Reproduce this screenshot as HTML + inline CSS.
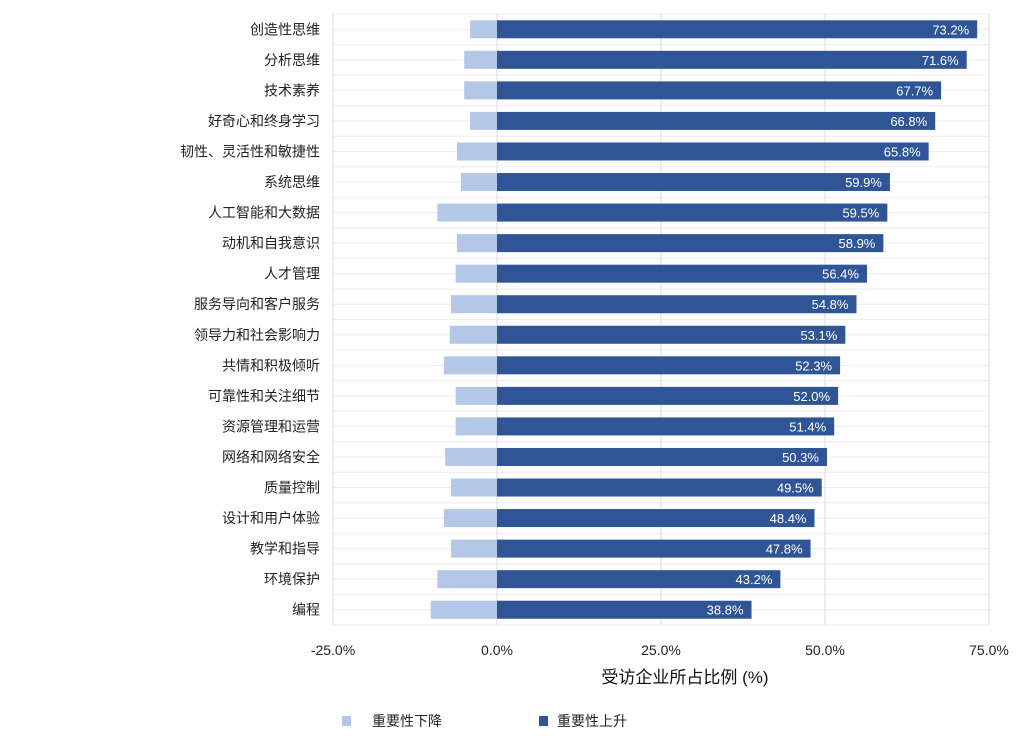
<!DOCTYPE html>
<html><head><meta charset="utf-8"><style>
body{margin:0;background:#fff;}
svg{display:block;font-family:"Liberation Sans","Noto Sans CJK SC",sans-serif;}
</style></head><body>
<svg id="chart" width="1024" height="739" viewBox="0 0 1024 739"></svg>
<script>
const categories=["创造性思维","分析思维","技术素养","好奇心和终身学习","韧性、灵活性和敏捷性","系统思维","人工智能和大数据","动机和自我意识","人才管理","服务导向和客户服务","领导力和社会影响力","共情和积极倾听","可靠性和关注细节","资源管理和运营","网络和网络安全","质量控制","设计和用户体验","教学和指导","环境保护","编程"];
const increaseValues=[73.2,71.6,67.7,66.8,65.8,59.9,59.5,58.9,56.4,54.8,53.1,52.3,52.0,51.4,50.3,49.5,48.4,47.8,43.2,38.8];
const decreaseValues=[-4.1,-5.0,-5.0,-4.1,-6.1,-5.5,-9.1,-6.1,-6.3,-7.0,-7.2,-8.1,-6.3,-6.3,-7.9,-7.0,-8.1,-7.0,-9.1,-10.1];
const xTicks=[-25,0,25,50,75];
const xTickLabels=["-25.0%","0.0%","25.0%","50.0%","75.0%"];

const NS="http://www.w3.org/2000/svg";
const svg=document.getElementById('chart');
const L=333,R=989,T=14,B=625;
const xMin=-25,xMax=75;
const band=(B-T)/categories.length;
function x(v){return L+(v-xMin)/(xMax-xMin)*(R-L);}
function yc(i){return T+band*(i+0.5);}
function el(tag,attrs,parent){const e=document.createElementNS(NS,tag);for(const k in attrs)e.setAttribute(k,attrs[k]);(parent||svg).appendChild(e);return e;}

const grid=el('g',{});


for(let k=0;k<=categories.length*2;k++){
  const yy=T+k*band/2;
  const ln=el('line',{x1:L,x2:R,y1:yy,y2:yy,stroke:'#ececec','stroke-width':1},grid);
  
  
}
xTicks.forEach((t,i)=>{
  const ln=el('line',{x1:x(t),x2:x(t),y1:T,y2:B,stroke:'#dcdcdc','stroke-width':1},grid);
  
  
  const tx=el('text',{x:x(t),y:655,'text-anchor':'middle','font-size':14,fill:'#222'});
  tx.textContent=xTickLabels[i];
  
  
});

categories.forEach((c,i)=>{
  const lab=el('text',{x:320,y:yc(i)+5,'text-anchor':'end','font-size':14,fill:'#222'});
  lab.textContent=c;
  
  
  const d=decreaseValues[i];
  const rd=el('rect',{x:x(d),y:yc(i)-9,width:x(0)-x(d),height:18,fill:'#b4c7e7'});
  
  
  const v=increaseValues[i];
  const ri=el('rect',{x:x(0),y:yc(i)-9,width:x(v)-x(0),height:18,fill:'#2f5597'});
  
  
  const vt=el('text',{x:x(v)-8,y:yc(i)+5,'text-anchor':'end','font-size':13,fill:'#fff'});
  vt.textContent=v.toFixed(1)+'%';
  
  
});

const title=el('text',{x:685,y:683,'text-anchor':'middle','font-size':17,fill:'#111'});
title.textContent='受访企业所占比例 (%)';



const lg=el('g',{});


const s1=el('rect',{x:342,y:716,width:9,height:10,fill:'#b4c7e7'},lg);


const t1=el('text',{x:372,y:726,'font-size':14,fill:'#222'},lg);
t1.textContent='重要性下降';


const s2=el('rect',{x:539,y:716,width:9,height:10,fill:'#2f5597'},lg);


const t2=el('text',{x:557,y:726,'font-size':14,fill:'#222'},lg);
t2.textContent='重要性上升';


</script>
</body></html>
